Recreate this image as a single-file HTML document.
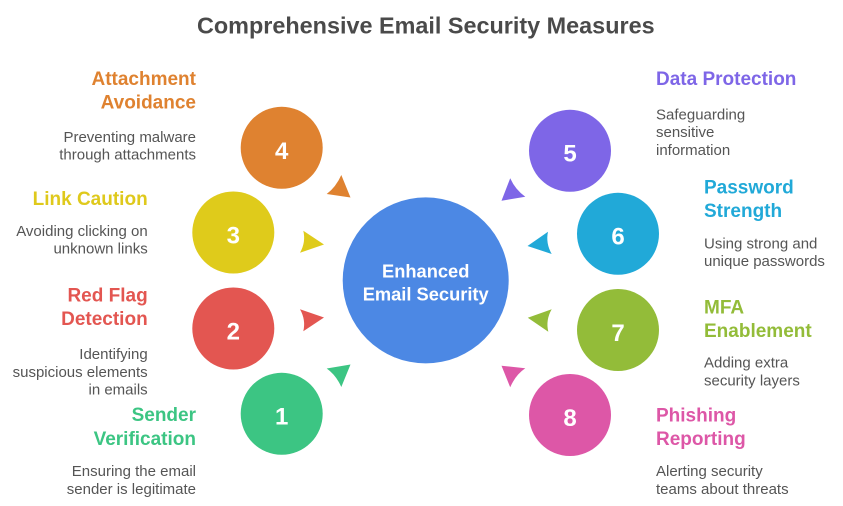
<!DOCTYPE html>
<html>
<head>
<meta charset="utf-8">
<style>
  html, body { margin: 0; padding: 0; background: #ffffff; }
  body { width: 843px; height: 506px; overflow: hidden; }
  svg { display: block; }
  .t { font-family: "Liberation Sans", Arial, sans-serif; font-weight: bold; font-size: 19px; }
  .d { font-family: "Liberation Sans", Arial, sans-serif; font-size: 15px; fill: #555555; }
  .n { font-family: "Liberation Sans", Arial, sans-serif; font-weight: bold; font-size: 24px; fill: #ffffff; }
</style>
</head>
<body>
<svg width="843" height="506" viewBox="0 0 843 506" xmlns="http://www.w3.org/2000/svg">
  <rect width="843" height="506" fill="#ffffff"/>

  <!-- Title -->
  <text x="425.8" y="33.3" text-anchor="middle" style="font-family:'Liberation Sans',Arial,sans-serif;font-weight:bold;font-size:23.4px;" fill="#4a4a4a">Comprehensive Email Security Measures</text>

  <!-- Central circle -->
  <circle cx="425.7" cy="280.4" r="83" fill="#4c88e4"/>
  <text x="425.7" y="277.3" text-anchor="middle" style="font-family:'Liberation Sans',Arial,sans-serif;font-weight:bold;font-size:18.3px;" fill="#ffffff">Enhanced</text>
  <text x="425.7" y="300.3" text-anchor="middle" style="font-family:'Liberation Sans',Arial,sans-serif;font-weight:bold;font-size:18.3px;" fill="#ffffff">Email Security</text>

  <!-- Outer circles -->
  <circle cx="281.7" cy="147.8" r="41" fill="#df8230"/>
  <text class="n" x="281.7" y="158.8" text-anchor="middle">4</text>

  <circle cx="233.3" cy="232.5" r="41" fill="#dfcb1b"/>
  <text class="n" x="233.3" y="243.3" text-anchor="middle">3</text>

  <circle cx="233.3" cy="328.5" r="41" fill="#e35651"/>
  <text class="n" x="233.3" y="339.3" text-anchor="middle">2</text>

  <circle cx="281.7" cy="413.8" r="41" fill="#3cc583"/>
  <text class="n" x="281.7" y="424.6" text-anchor="middle">1</text>

  <circle cx="570" cy="150.8" r="41" fill="#7e66e7"/>
  <text class="n" x="570" y="161.6" text-anchor="middle">5</text>

  <circle cx="618" cy="233.8" r="41" fill="#21a9d8"/>
  <text class="n" x="618" y="244.6" text-anchor="middle">6</text>

  <circle cx="618" cy="330" r="41" fill="#93bc39"/>
  <text class="n" x="618" y="340.8" text-anchor="middle">7</text>

  <circle cx="570" cy="415" r="41" fill="#dd57a7"/>
  <text class="n" x="570" y="425.8" text-anchor="middle">8</text>

  <!-- Arrowheads (triangles with concave base) -->
  <path d="M341.3,175 Q336,187 326.7,194 L350.5,197.5 Z" fill="#df8230"/>
  <path d="M303.3,230.7 Q306,242 300,252.7 L324,244.5 Z" fill="#dfcb1b"/>
  <path d="M300,309.3 Q306,320 303.3,331.3 L324,317.5 Z" fill="#e35651"/>
  <path d="M326.7,368.5 Q336,375 341.3,387 L350.5,364.5 Z" fill="#3cc583"/>
  <path d="M510.2,178.3 Q515.5,190 525.3,196.7 L501.5,200.7 Z" fill="#7e66e7"/>
  <path d="M548,231.7 Q545.5,243 551.7,254 L527.5,246 Z" fill="#21a9d8"/>
  <path d="M551.7,309.3 Q545.5,320 548.3,331.7 L527.8,317.7 Z" fill="#93bc39"/>
  <path d="M525.3,368.3 Q515.5,375 510.2,387.3 L501.5,365.7 Z" fill="#dd57a7"/>

  <!-- Left labels -->
  <text class="t" x="196" y="85" text-anchor="end" fill="#df8230">Attachment</text>
  <text class="t" x="196" y="108.5" text-anchor="end" fill="#df8230">Avoidance</text>
  <text class="d" x="196" y="142" text-anchor="end">Preventing malware</text>
  <text class="d" x="196" y="159.7" text-anchor="end">through attachments</text>

  <text class="t" x="147.7" y="205" text-anchor="end" fill="#dfc91c">Link Caution</text>
  <text class="d" x="147.7" y="236" text-anchor="end">Avoiding clicking on</text>
  <text class="d" x="147.7" y="253.7" text-anchor="end">unknown links</text>

  <text class="t" x="147.7" y="301.7" text-anchor="end" fill="#e35651">Red Flag</text>
  <text class="t" x="147.7" y="325.2" text-anchor="end" fill="#e35651">Detection</text>
  <text class="d" x="147.7" y="359" text-anchor="end">Identifying</text>
  <text class="d" x="147.7" y="376.8" text-anchor="end">suspicious elements</text>
  <text class="d" x="147.7" y="394.5" text-anchor="end">in emails</text>

  <text class="t" x="196" y="421" text-anchor="end" fill="#3cc583">Sender</text>
  <text class="t" x="196" y="445" text-anchor="end" fill="#3cc583">Verification</text>
  <text class="d" x="196" y="476.2" text-anchor="end">Ensuring the email</text>
  <text class="d" x="196" y="494" text-anchor="end">sender is legitimate</text>

  <!-- Right labels -->
  <text class="t" x="656" y="85" fill="#7e66e7">Data Protection</text>
  <text class="d" x="656" y="119.5">Safeguarding</text>
  <text class="d" x="656" y="137.2">sensitive</text>
  <text class="d" x="656" y="155">information</text>

  <text class="t" x="704" y="193.5" fill="#21a9d8">Password</text>
  <text class="t" x="704" y="217" fill="#21a9d8">Strength</text>
  <text class="d" x="704" y="248.5">Using strong and</text>
  <text class="d" x="704" y="266.2">unique passwords</text>

  <text class="t" x="704" y="313.5" fill="#93bc39">MFA</text>
  <text class="t" x="704" y="337" fill="#93bc39">Enablement</text>
  <text class="d" x="704" y="367.5">Adding extra</text>
  <text class="d" x="704" y="385.5">security layers</text>

  <text class="t" x="656" y="421.5" fill="#dd57a7">Phishing</text>
  <text class="t" x="656" y="445" fill="#dd57a7">Reporting</text>
  <text class="d" x="656" y="476.2">Alerting security</text>
  <text class="d" x="656" y="494">teams about threats</text>
</svg>
</body>
</html>
